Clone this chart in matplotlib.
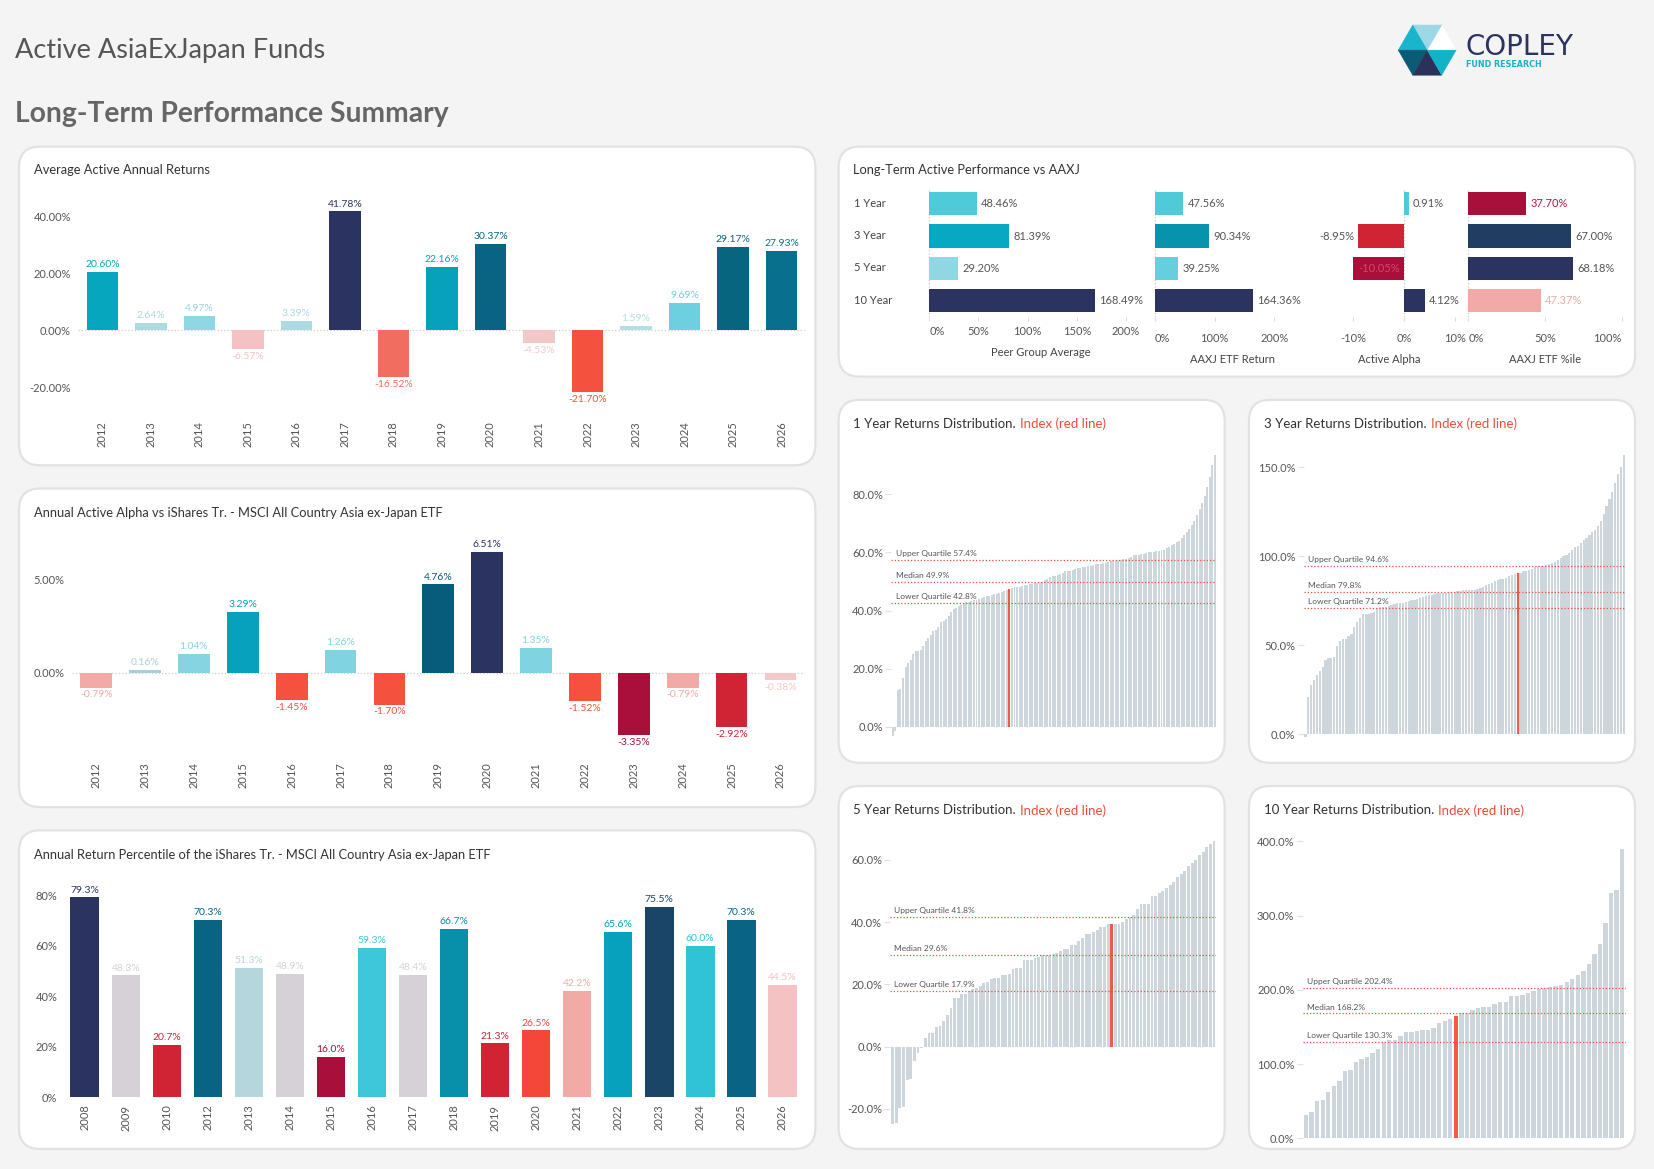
import matplotlib
matplotlib.use('Agg')
import matplotlib.pyplot as plt
from matplotlib.patches import FancyBboxPatch, Polygon

plt.rcParams['font.family'] = ['Lato', 'DejaVu Sans']

# layout grid of the reference (pixels, scaled to the figure)
W, H = 1568, 1108

# ---------------- data ----------------
years_a = [2012, 2013, 2014, 2015, 2016, 2017, 2018, 2019, 2020, 2021, 2022, 2023, 2024, 2025, 2026]
avg_active = [20.60, 2.64, 4.97, -6.57, 3.39, 41.78, -16.52, 22.16, 30.37, -4.53, -21.70, 1.59, 9.69, 29.17, 27.93]
avg_colors = ['#07a6bf', '#acd9e2', '#90d6e3', '#f4c2c2', '#acd9e2', '#2b3361', '#f06d5f', '#07a0bd',
              '#086482', '#f4c8c8', '#f4513f', '#b4dee6', '#6dd0e0', '#076580', '#08708e']

alpha_vals = [-0.79, 0.16, 1.04, 3.29, -1.45, 1.26, -1.70, 4.76, 6.51, 1.35, -1.52, -3.35, -0.79, -2.92, -0.38]
alpha_colors = ['#f2aaa6', '#a9cfd9', '#86d3e2', '#07a0bd', '#f4513f', '#80d4e2', '#f4513f', '#075c7c',
                '#2b3361', '#80d4e2', '#f4513f', '#a80f3a', '#f2aaa6', '#d02434', '#f4c8c8']

pct_years = [2008, 2009, 2010, 2012, 2013, 2014, 2015, 2016, 2017, 2018, 2019, 2020, 2021, 2022, 2023,
             2024, 2025, 2026]
pct_vals = [79.3, 48.3, 20.7, 70.3, 51.3, 48.9, 16.0, 59.3, 48.4, 66.7, 21.3, 26.5, 42.2, 65.6, 75.5,
            60.0, 70.3, 44.5]
pct_colors = ['#2b3361', '#d6d1d6', '#d02434', '#086482', '#b6d6de', '#d6d1d6', '#a80f3a', '#3ec6da',
              '#d6d1d6', '#0890aa', '#d02434', '#f4473a', '#f2aaa6', '#07a0bd', '#1b4566', '#30c2d6',
              '#086482', '#f4c2c2']

lt_rows = ['1 Year', '3 Year', '5 Year', '10 Year']
peer_avg = [48.46, 81.39, 29.20, 168.49]
etf_return = [47.56, 90.34, 39.25, 164.36]
active_alpha = [0.91, -8.95, -10.05, 4.12]
etf_pctile = [37.70, 67.00, 68.18, 47.37]
peer_colors = ['#4ecad8', '#06a9c1', '#8fd7e3', '#2b3361']
etf_colors = ['#4ecad8', '#0893ac', '#66cfdf', '#2b3361']
alpha_lt_colors = ['#4ecad8', '#d02434', '#a80f3a', '#2b3361']
pctile_colors = ['#a80f3a', '#223d62', '#2b3361', '#f2aaa6']

dist_1y = [-3.0, -1.5,
           12.6, 13.0, 17.0, 20.5, 22.0, 23.0, 25.0, 26.0, 26.2, 26.5,
           28.0, 29.5, 30.5, 31.5, 33.0, 33.5, 34.5, 36.0, 36.5, 37.0,
           38.0, 39.5, 40.5, 41.0, 41.5, 42.0, 42.5, 43.0, 43.0, 43.2,
           43.5, 43.8, 44.0, 44.5, 44.8, 45.0, 45.2, 45.5, 45.6, 45.8,
           46.0, 46.5, 46.8, 47.0,
           47.5,
           47.8, 48.0, 48.0, 48.2, 48.5, 48.7, 48.8, 49.0, 49.2, 49.5,
           49.6, 49.8, 50.0, 50.5, 51.0, 51.5, 51.8, 52.0, 52.2, 52.5,
           53.0, 53.5, 53.6, 53.8, 54.0, 54.2, 54.5, 54.8, 55.0, 55.0,
           55.2, 55.5, 55.8, 56.0, 56.0, 56.2, 56.5, 56.5, 56.8, 57.0,
           57.0, 57.2, 57.4, 57.5, 57.6, 57.8, 58.0, 58.5, 59.0, 59.0,
           59.3, 59.5, 59.6, 59.8, 60.0, 60.0, 60.2, 60.4, 60.5,
           60.8, 61.0, 61.5, 62.0, 62.5, 63.0, 63.5, 64.0, 65.0, 66.0, 67.0,
           68.0, 69.5, 71.0, 73.0, 75.0, 77.0, 79.5, 82.5, 86.0, 90.0, 93.5]
index_1y = 46
quart_1y = [42.8, 49.9, 57.4]

dist_3y = [-1.5,
           21.0, 28.0, 30.6, 33.6, 35.8, 38.0, 41.8, 43.0, 43.0, 43.2, 49.7, 52.7, 53.3,
           53.3, 55.2, 56.5, 60.2, 63.0, 65.5, 67.4, 67.4, 67.7, 68.0, 68.7, 71.0, 71.5,
           71.5, 71.8, 72.0, 72.5, 73.0, 73.5, 73.7, 74.0, 74.5, 75.0, 75.2, 75.5, 76.0,
           76.5, 77.0, 77.5, 78.0, 78.5, 79.0, 79.2, 79.4, 79.5,
           79.6, 79.8, 80.0, 80.0, 80.3, 80.5, 80.8, 81.0, 81.2, 81.2, 81.3, 81.5, 82.0,
           83.0, 83.7, 84.5, 85.2, 86.0, 86.5, 87.0, 87.4, 88.0, 88.7, 89.3, 89.9,
           90.5,
           90.8, 91.7, 92.0, 92.5, 93.0, 94.0, 94.4, 94.6, 94.7, 95.0,
           95.5, 96.0, 97.0, 98.0, 99.0, 100.0, 101.0, 102.0, 103.5, 105.0,
           106.0, 107.5, 109.0, 110.5, 112.0, 113.5, 115.0, 117.0, 120.0, 124.0,
           128.0, 132.0, 136.0, 141.0, 146.0, 150.0, 157.0]
index_3y = 74
quart_3y = [71.2, 79.8, 94.6]

dist_5y = [-25.0, -24.5, -19.8, -19.5, -10.8, -10.5, -4.6, -2.0, -0.5,
           2.8, 4.4, 4.4, 6.3, 6.8, 8.4, 10.3, 12.3, 15.5, 15.5,
           16.8, 16.8, 17.8, 18.4, 18.9, 19.5, 20.5, 20.8, 21.6, 22.2,
           22.2, 22.9, 22.9, 23.2, 25.0, 25.4, 25.4, 27.7, 27.7, 28.0,
           28.6, 28.8, 29.5, 29.5, 29.5, 29.9, 30.2, 30.8, 31.3, 31.3,
           32.6, 32.6, 34.0, 35.0, 36.1, 36.3, 36.9, 37.4, 38.5, 38.5, 39.4,
           39.4,
           39.5, 39.5, 40.1, 41.0, 41.8, 42.3, 44.2, 45.8, 46.0, 46.0, 48.3,
           48.5, 49.5, 50.0, 51.0, 52.0, 53.0, 54.5, 55.5, 56.5, 58.0, 59.0,
           60.0, 61.5, 62.5, 64.0, 65.0, 66.0]
index_5y = 60
quart_5y = [17.9, 29.6, 41.8]

dist_10y = [31.4, 35.0, 50.0, 51.6, 62.0, 70.4, 77.0, 91.0, 92.0, 102.7, 106.7, 109.4, 114.3,
            120.0, 129.6, 132.3, 132.3, 137.7, 142.6, 142.6, 144.4, 146.6, 146.6, 148.0, 156.0,
            157.8, 160.5,
            164.6,
            168.2, 168.2, 172.6, 175.8, 177.0, 177.0, 180.7, 183.4, 183.4, 191.5, 191.5, 193.7,
            196.4, 198.2, 201.8, 202.7, 204.0, 205.0, 207.0, 210.0, 214.0, 220.0, 226.0, 235.0,
            248.0, 262.0, 290.0, 330.0, 335.0, 390.0]
index_10y = 27
quart_10y = [130.3, 168.2, 202.4]

# ---------------- figure ----------------
fig = plt.figure(figsize=(16.54, 11.69), dpi=100)
fig.patch.set_facecolor('#f4f4f4')

bg = fig.add_axes([0, 0, 1, 1])
bg.set_xlim(0, W)
bg.set_ylim(H, 0)
bg.axis('off')

GREY = '#555555'
BAR_GREY = '#cdd6dc'
RED = '#f05a48'


def panel(x0, y0, x1, y1):
    bg.add_patch(FancyBboxPatch((x0, y0), x1 - x0, y1 - y0,
                                boxstyle='round,pad=0,rounding_size=20',
                                fc='white', ec='#e2e2e2', lw=1.6))


def add_ax(x0, y0, x1, y1):
    ax = fig.add_axes([x0 / W, 1 - y1 / H, (x1 - x0) / W, (y1 - y0) / H])
    ax.patch.set_alpha(0)
    for s in ax.spines.values():
        s.set_visible(False)
    return ax


for rect in [(18, 139, 773, 441), (18, 463, 773, 765), (18, 787, 773, 1089),
             (795, 139, 1550, 357), (795, 379, 1161, 723), (1184, 379, 1550, 723),
             (795, 745, 1161, 1089), (1184, 745, 1550, 1089)]:
    panel(*rect)

# header
bg.text(14, 48, 'Active AsiaExJapan Funds', fontsize=19.5, color='#555555', va='center')
bg.text(14, 108, 'Long-Term Performance Summary', fontsize=20.3, color='#666666',
        fontweight='bold', va='center')

# logo
cx, cy, R = 1353, 47.5, 27.5
s3 = 3 ** 0.5 / 2
verts = [(cx + R, cy), (cx + R / 2, cy - R * s3), (cx - R / 2, cy - R * s3),
         (cx - R, cy), (cx - R / 2, cy + R * s3), (cx + R / 2, cy + R * s3)]
logo_cols = ['#ffffff', '#9ed8e6', '#1ab5cc', '#0b5a76', '#2b3158', '#12b2c9']
for k in range(6):
    bg.add_patch(Polygon([(cx, cy), verts[k], verts[(k + 1) % 6]], closed=True,
                         fc=logo_cols[k], ec=logo_cols[k], lw=0.3))
bg.text(1389, 45, 'COPLEY', fontsize=20, color='#2b3361', va='center',
        family=['Liberation Sans Narrow', 'DejaVu Sans'])
bg.text(1390, 61.5, 'FUND RESEARCH', fontsize=5.8, color='#1ab0c8', va='center',
        fontweight='bold', family=['DejaVu Sans'])


def year_bars(ax, vals, cols, labels, fmt, width):
    x = range(len(vals))
    ax.bar(x, vals, color=cols, width=width, zorder=2)
    for i, v in enumerate(vals):
        if v >= 0:
            ax.annotate(fmt.format(v), (i, v), xytext=(0, 2), textcoords='offset points',
                        ha='center', va='bottom', fontsize=7.5, color=cols[i])
        else:
            ax.annotate(fmt.format(v), (i, v), xytext=(0, -2), textcoords='offset points',
                        ha='center', va='top', fontsize=7.5, color=cols[i])
    ax.set_xlim(-0.5, len(vals) - 0.5)
    ax.set_xticks(list(x))
    ax.set_xticklabels([str(y) for y in labels], rotation=90, fontsize=8, color=GREY)
    ax.tick_params(axis='both', length=0, labelsize=8, labelcolor=GREY)


# ---- Average Active Annual Returns ----
bg.text(32, 161, 'Average Active Annual Returns', fontsize=9.3, color='#333333', va='center')
axA = add_ax(74, 180, 764, 395)
year_bars(axA, avg_active, avg_colors, years_a, '{:.2f}%', 0.65)
axA.axhline(0, color='#cfcfcf', ls=':', lw=0.9, zorder=1)
axA.set_ylim(-30.4, 49.3)
axA.set_yticks([-20, 0, 20, 40])
axA.set_yticklabels(['{:.2f}%'.format(v) for v in [-20, 0, 20, 40]])
axA.tick_params(axis='y', pad=5)
axA.tick_params(axis='x', pad=3)

# ---- Annual Active Alpha ----
bg.text(32, 486, 'Annual Active Alpha vs iShares Tr. - MSCI All Country Asia ex-Japan ETF',
        fontsize=9.3, color='#333333', va='center')
axB = add_ax(68, 495, 763, 716)
year_bars(axB, alpha_vals, alpha_colors, years_a, '{:.2f}%', 0.65)
axB.axhline(0, color='#cfcfcf', ls=':', lw=0.9, zorder=1)
axB.set_ylim(-4.43, 8.1)
axB.set_yticks([0, 5])
axB.set_yticklabels(['0.00%', '5.00%'])
axB.tick_params(axis='y', pad=5)
axB.tick_params(axis='x', pad=5)

# ---- Annual Return Percentile ----
bg.text(32, 810, 'Annual Return Percentile of the iShares Tr. - MSCI All Country Asia ex-Japan ETF',
        fontsize=9.3, color='#333333', va='center')
axC = add_ax(61, 830, 761, 1043)
year_bars(axC, pct_vals, pct_colors, pct_years, '{:.1f}%', 0.7)
axC.set_ylim(-1.3, 87.9)
axC.set_yticks([0, 20, 40, 60, 80])
axC.set_yticklabels(['{}%'.format(v) for v in [0, 20, 40, 60, 80]])
axC.tick_params(axis='y', pad=5)
axC.tick_params(axis='x', pad=3)

# ---- Long-Term Active Performance vs AAXJ ----
bg.text(809, 161, 'Long-Term Active Performance vs AAXJ', fontsize=9.3, color='#333333', va='center')
for j, name in enumerate(lt_rows):
    bg.text(810, 193 + j * 30.5, name, fontsize=8, color='#444444', va='center')


def lt_axis(rect, xlim, vals, cols, ticks, pad, label_cols=None, first_left=True, last_right=False):
    ax = add_ax(*rect)
    ax.barh(range(len(vals)), vals, color=cols, height=0.72, zorder=2)
    ax.set_ylim(3.5, -0.5)
    ax.set_xlim(*xlim)
    ax.set_yticks([])
    ax.set_xticks(ticks)
    ax.set_xticklabels(['{}%'.format(t) for t in ticks])
    ax.tick_params(axis='x', length=3, color='#dddddd', labelsize=8, labelcolor=GREY, pad=pad)
    labs = ax.get_xticklabels()
    if first_left:
        labs[0].set_ha('left')
    if last_right:
        labs[-1].set_ha('right')
    ax.axvline(0, color='#c8c8c8', ls=':', lw=0.9, zorder=1)
    for i, v in enumerate(vals):
        c = GREY if label_cols is None else label_cols[i]
        if v >= 0:
            ax.annotate('{:.2f}%'.format(v), (v, i), xytext=(3, 0), textcoords='offset points',
                        ha='left', va='center', fontsize=8, color=c)
        else:
            ax.annotate('{:.2f}%'.format(v), (v, i), xytext=(-3, 0), textcoords='offset points',
                        ha='right', va='center', fontsize=8, color=c)
    return ax


lt_axis((875, 178, 1085, 300), (-6.44, 218.9), peer_avg, peer_colors, [0, 50, 100, 150, 200], 4)
lt_axis((1090, 178, 1240, 300), (-8.85, 256.6), etf_return, etf_colors, [0, 100, 200], 9)
axD3 = add_ax(1270, 178, 1388, 300)
axD3.barh(range(4), active_alpha, color=alpha_lt_colors, height=0.72, zorder=2)
axD3.set_ylim(3.5, -0.5)
axD3.set_xlim(-12.6, 11.75)
axD3.set_yticks([])
axD3.set_xticks([-10, 0, 10])
axD3.set_xticklabels(['-10%', '0%', '10%'])
axD3.tick_params(axis='x', length=3, color='#dddddd', labelsize=8, labelcolor=GREY, pad=9)
axD3.axvline(0, color='#c8c8c8', ls=':', lw=0.9, zorder=1)
for i, v in enumerate(active_alpha):
    if v >= 0:
        axD3.annotate('{:.2f}%'.format(v), (v, i), xytext=(3, 0), textcoords='offset points',
                      ha='left', va='center', fontsize=8, color=GREY)
    elif v > -10:
        axD3.annotate('{:.2f}%'.format(v), (v, i), xytext=(-3, 0), textcoords='offset points',
                      ha='right', va='center', fontsize=8, color=GREY)
    else:
        axD3.annotate('{:.2f}%'.format(v), (0, i), xytext=(-3, 0), textcoords='offset points',
                      ha='right', va='center', fontsize=8, color='#d04a66', zorder=3)
lt_axis((1388, 178, 1545, 300), (-2.75, 105.1), etf_pctile, pctile_colors, [0, 50, 100], 9,
        label_cols=['#c0143c', GREY, GREY, '#f0a8a4'], last_right=True)

bg.text(987, 334, 'Peer Group Average', fontsize=8, color='#444444', ha='center', va='center')
bg.text(1168, 341, 'AAXJ ETF Return', fontsize=8, color='#444444', ha='center', va='center')
bg.text(1317, 341, 'Active Alpha', fontsize=8, color='#444444', ha='center', va='center')
bg.text(1465, 341, 'AAXJ ETF %ile', fontsize=8, color='#444444', ha='center', va='center')


# ---- distributions ----
def two_tone(x, y, a, b):
    t = bg.text(x, y, a, fontsize=9.5, color='#333333', va='center')
    bb = t.get_window_extent(renderer=fig.canvas.get_renderer())
    x1 = bg.transData.inverted().transform((bb.x1, bb.y0))[0]
    bg.text(x1 + 4, y, b, fontsize=9.5, color='#f04a3a', va='center')


def dist(rect, vals, idx, quarts, ylim, ticks):
    ax = add_ax(*rect)
    cols = [RED if i == idx else BAR_GREY for i in range(len(vals))]
    ax.bar(range(len(vals)), vals, color=cols, width=0.78, zorder=2)
    ax.set_xlim(-0.6, len(vals) - 0.4)
    ax.set_ylim(*ylim)
    ax.set_xticks([])
    ax.set_yticks(ticks)
    ax.set_yticklabels(['{:.1f}%'.format(t) for t in ticks])
    ax.tick_params(axis='y', length=4, color='#e0e0e0', labelsize=8, labelcolor=GREY, pad=2)
    names = ['Lower Quartile', 'Median', 'Upper Quartile']
    for q, n in zip(quarts, names):
        ax.axhline(q, color='#f0503c', ls=(0, (1, 1.6)), lw=0.9, zorder=3)
        ax.annotate('{} {:.1f}%'.format(n, q), (0, q), xycoords=('axes fraction', 'data'),
                    xytext=(3, 2), textcoords='offset points', ha='left', va='bottom',
                    fontsize=6, color='#555555', zorder=4)
    return ax


two_tone(809, 402, '1 Year Returns Distribution.', 'Index (red line)')
dist((845, 425, 1153, 705), dist_1y, index_1y, quart_1y, (-5.8, 95.8), [0, 20, 40, 60, 80])
two_tone(1198, 402, '3 Year Returns Distribution.', 'Index (red line)')
dist((1236, 425, 1541, 705), dist_3y, index_3y, quart_3y, (-5.3, 160.6), [0, 50, 100, 150])
two_tone(809, 768, '5 Year Returns Distribution.', 'Index (red line)')
dist((844, 790, 1153, 1072), dist_5y, index_5y, quart_5y, (-27.1, 68.5), [-20, 0, 20, 40, 60])
two_tone(1198, 768, '10 Year Returns Distribution.', 'Index (red line)')
dist((1235, 785, 1541, 1083), dist_10y, index_10y, quart_10y, (-5.7, 417.6), [0, 100, 200, 300, 400])

fig.savefig('out.png', dpi=100, facecolor=fig.get_facecolor())
